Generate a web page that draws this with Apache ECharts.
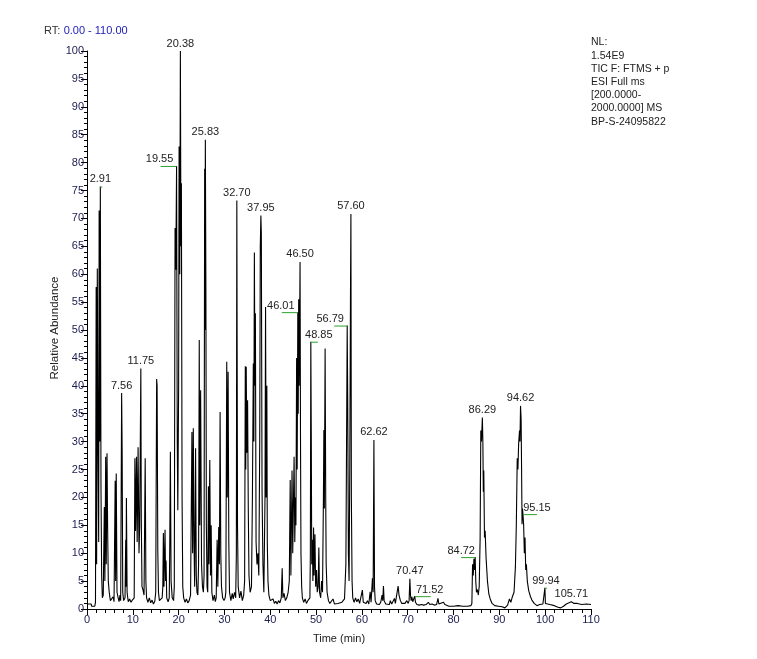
<!DOCTYPE html>
<html>
<head>
<meta charset="utf-8">
<title>TIC chromatogram</title>
<script src="https://cdn.jsdelivr.net/npm/echarts@6/dist/echarts.min.js"></script>
<style>
  html, body { margin: 0; padding: 0; background: #fff; }
  #main { width: 757px; height: 659px; }
</style>
</head>
<body>
<div id="main"></div>
<script>
// retention time (min) and relative abundance (%)
const rt = [
  0.0, 0.9, 1.0, 1.7, 1.85, 2.0, 2.1, 2.25, 2.4, 2.55, 2.65, 2.78, 2.91, 3.05, 3.2, 3.35, 3.55,
  3.78, 3.9, 4.08, 4.2, 4.37, 4.5, 4.65, 4.85, 5.1, 5.4, 5.7, 5.9, 6.15, 6.25, 6.38, 6.55,
  6.8, 7.0, 7.2, 7.35, 7.56, 7.67, 7.8, 8.0, 8.3, 8.45, 8.52, 8.6, 8.75, 9.0, 9.3, 9.6, 9.9,
  10.2, 10.3, 10.45, 10.6, 10.8, 10.95, 11.15, 11.35, 11.5, 11.75, 11.85, 12.0, 12.2, 12.45,
  12.7, 12.85, 13.0, 13.3, 13.6, 13.9, 14.2, 14.5, 14.8, 15.0, 15.2, 15.3, 15.45, 15.6, 15.8,
  16.1, 16.4, 16.55, 16.67, 16.8, 17.03, 17.15, 17.25, 17.4, 17.7, 17.95, 18.05, 18.2, 18.35,
  18.6, 18.9, 19.05, 19.22, 19.38, 19.55, 19.7, 19.82, 20.0, 20.1, 20.25, 20.38, 20.5, 20.6,
  20.75, 20.9, 21.1, 21.4, 21.7, 22.0, 22.3, 22.6, 22.9, 23.05, 23.2, 23.35, 23.5, 23.7, 23.85,
  24.0, 24.2, 24.35, 24.5, 24.62, 24.8, 25.0, 25.2, 25.4, 25.55, 25.68, 25.75, 25.83, 25.95,
  26.05, 26.2, 26.35, 26.5, 26.62, 26.8, 26.95, 27.1, 27.25, 27.5, 27.8, 28.0, 28.2, 28.4,
  28.55, 28.75, 28.9, 29.05, 29.2, 29.35, 29.6, 29.9, 30.15, 30.3, 30.5, 30.62, 30.8, 30.95,
  31.1, 31.4, 31.7, 31.9, 32.2, 32.45, 32.6, 32.7, 32.85, 33.0, 33.3, 33.6, 33.9, 34.2, 34.4,
  34.55, 34.65, 34.75, 34.88, 35.05, 35.2, 35.35, 35.6, 35.9, 36.1, 36.3, 36.42, 36.53, 36.65,
  36.75, 36.9, 37.1, 37.3, 37.5, 37.7, 37.82, 37.95, 38.05, 38.2, 38.4, 38.6, 38.85, 38.97,
  39.1, 39.25, 39.35, 39.5, 39.7, 40.0, 40.3, 40.6, 40.9, 41.2, 41.5, 41.8, 42.1, 42.4, 42.6,
  42.75, 43.0, 43.3, 43.6, 43.9, 44.15, 44.35, 44.5, 44.75, 44.9, 45.2, 45.35, 45.5, 45.6,
  45.75, 45.87, 46.01, 46.1, 46.2, 46.3, 46.4, 46.5, 46.6, 46.7, 46.85, 47.0, 47.3, 47.6, 47.9,
  48.2, 48.5, 48.65, 48.75, 48.85, 48.95, 49.05, 49.2, 49.3, 49.45, 49.55, 49.75, 49.9, 50.1,
  50.25, 50.45, 50.6, 50.75, 51.0, 51.2, 51.4, 51.6, 51.7, 51.8, 51.97, 52.1, 52.2, 52.4, 52.7,
  53.0, 53.4, 53.7, 54.0, 54.4, 54.8, 55.2, 55.6, 55.9, 56.2, 56.4, 56.5, 56.65, 56.79, 56.9,
  57.05, 57.2, 57.35, 57.5, 57.6, 57.7, 57.85, 58.0, 58.3, 58.6, 58.9, 59.2, 59.5, 59.8, 60.1,
  60.3, 60.6, 60.9, 61.2, 61.5, 61.8, 62.0, 62.3, 62.45, 62.62, 62.75, 62.9, 63.2, 63.5, 63.8,
  64.1, 64.4, 64.55, 64.7, 64.85, 65.2, 65.6, 66.0, 66.2, 66.5, 66.8, 67.1, 67.3, 67.6, 67.9,
  68.1, 68.4, 68.7, 69.0, 69.4, 69.8, 70.1, 70.3, 70.47, 70.6, 70.75, 70.9, 71.1, 71.3, 71.52,
  71.7, 72.0, 72.5, 73.0, 73.5, 74.0, 74.5, 74.8, 75.3, 75.8, 76.3, 76.6, 76.8, 77.2, 77.8,
  78.1, 78.5, 79.0, 80.0, 81.0, 82.0, 83.0, 83.8, 84.0, 84.15, 84.3, 84.45, 84.6, 84.72, 84.85,
  85.0, 85.2, 85.4, 85.6, 85.8, 85.95, 86.1, 86.29, 86.4, 86.5, 86.6, 86.75, 86.9, 87.1, 87.4,
  87.7, 88.0, 88.4, 89.0, 89.8, 90.6, 91.2, 91.6, 91.8, 92.2, 92.5, 92.8, 93.2, 93.5, 93.7,
  93.9, 94.05, 94.2, 94.4, 94.5, 94.62, 94.75, 94.85, 94.95, 95.05, 95.15, 95.3, 95.45, 95.6,
  95.75, 95.9, 96.1, 96.4, 96.8, 97.1, 97.6, 98.2, 98.8, 99.5, 99.85, 99.94, 100.05, 100.4,
  101.0, 102.0, 102.8, 103.4, 104.0, 104.6, 105.2, 105.71, 106.3, 107.0, 108.0, 109.0, 110.0
];
const abundance = [
  0.9, 0.9, 0.5, 0.5, 1.2, 57.7, 8, 61, 28, 12, 71.4, 30, 75.7, 22, 6, 2, 2.5,
  18.3, 5, 27.3, 8, 27.9, 14.6, 5, 3, 1.5, 1.2, 2.2, 1.3, 23, 5, 24.3, 3,
  2, 1.3, 2.5, 1.5, 38.7, 28.4, 3, 1.5, 2, 12.4, 4, 19.9, 3, 1.3, 1.8, 1.2, 1.6,
  1.3, 2, 27, 14, 27.3, 12, 29, 10, 15, 43.1, 16, 4, 3.5, 2.5,
  27, 5, 2, 1.2, 2, 1.1, 1.6, 0.9, 1.4, 3, 41.2, 40, 10.5, 3, 1.5,
  1.2, 2, 4, 13.6, 4, 14.2, 5, 8.7, 2, 1.3, 2, 10, 28.2, 5,
  2, 1.5, 4, 68.3, 60.8, 79.4, 30, 17.7, 40, 82.9, 60, 100, 65, 76.3,
  20, 4, 2, 1.2, 1.8, 1.1, 1.5, 2.5, 31.7, 10, 32.4, 12, 4, 28.8, 6,
  3, 2.5, 8, 48.2, 15, 39.2, 8, 4, 3, 6, 78.9, 50, 84.1, 57.1,
  15, 4, 3, 22, 8, 26.7, 6, 15, 3, 1.5, 2.5, 1.3, 2, 12.4,
  4, 14.7, 8, 35.3, 10, 4, 2, 1.5, 2, 3, 44.3, 20, 42.5, 12,
  3, 1.5, 2.8, 1.8, 3, 2, 10, 73.2, 15, 4, 2, 3.2, 1.5, 2.5, 5,
  43.5, 25, 43.4, 28, 37.4, 18, 6, 3, 4, 20, 44, 30, 63.9, 40,
  53, 12, 8, 10, 6, 30, 65, 70.5, 67.2, 21.6, 8, 3, 20, 54.1,
  20, 40, 12, 5, 2.5, 1.5, 1.2, 1.8, 1.0, 1.4, 0.9, 1.5, 1.1, 2, 7.3,
  2, 2.8, 1.5, 2, 3, 5, 23.1, 6, 24.8, 10, 27.3, 12, 20, 15,
  45, 25, 53.2, 35, 55.5, 40, 50, 62.2, 30, 10, 4, 2, 1.2, 1.8, 1.0,
  1.5, 1.2, 2, 10, 47.9, 30.9, 8, 12.4, 5, 14.6, 6, 13.4, 4, 7,
  3, 4, 11, 3, 2, 5, 3, 20, 32.1, 18, 46.7, 20, 8, 3, 1.5,
  1.0, 1.3, 1.8, 0.9, 0.6, 1.0, 0.8, 1.2, 1.0, 1.8, 2, 8, 30, 50.8, 37.9,
  10, 5, 25, 55, 70.8, 20, 5, 2, 1.2, 2, 1.3, 1.8, 1.0, 1.2, 3.4,
  1.2, 0.9, 1.0, 1.5, 0.9, 3.1, 1.2, 5.5, 3, 30.3, 4, 1.5, 0.9, 1.1, 0.8,
  1.2, 2.5, 1.5, 4.1, 1.5, 0.9, 1.0, 0.8, 1.5, 0.9, 1.0, 1.9, 1.0, 1.2, 4.1,
  2.5, 1.5, 1.0, 0.8, 1.0, 1.5, 1.0, 1.5, 5.4, 2.5, 1.5, 2.2, 1.3, 1.6, 2.3,
  1.2, 0.8, 0.7, 0.8, 0.7, 0.8, 1.2, 0.8, 0.9, 0.7, 0.8, 1.9, 0.9, 0.7, 1.2,
  0.8, 0.6, 0.5, 0.5, 0.6, 0.5, 0.5, 0.6, 1, 8, 6, 9, 7, 9.3, 5,
  3, 3.5, 2.5, 4, 12.5, 32, 30, 34.3, 30, 21, 24.8, 12.8, 14, 9.2, 5,
  2.7, 1.8, 1.0, 0.6, 0.5, 0.4, 0.2, 0.3, 0.7, 1.8, 1.2, 2.1, 3, 7.5, 15,
  27, 25, 29.5, 32, 30, 36.4, 34, 25, 15.2, 18, 17, 15, 10, 12.8,
  7, 8, 5, 3.3, 2.2, 1.6, 1.0, 0.6, 0.8, 0.9, 1.0, 3.8, 1.0, 0.8,
  0.8, 0.6, 0.3, 0.2, 0.5, 0.9, 1.1, 1.3, 1.0, 1.0, 0.8, 0.9, 0.8
];

// peaks that carry a retention-time label
const labelledPeaks = [2.91, 7.56, 11.75, 19.55, 20.38, 25.83, 32.70, 37.95, 46.01, 46.50,
  48.85, 56.79, 57.60, 62.62, 70.47, 71.52, 84.72, 86.29, 94.62, 95.15, 99.94, 105.71];

const infoLines = ['NL:', '1.54E9', 'TIC F: FTMS + p', 'ESI Full ms',
  '[200.0000-', '2000.0000] MS', 'BP-S-24095822'];

// labels moved aside from their peak, with a green leader (pixels)
const labelShift = {
  '2.91': { dx: 0, line: 2 },
  '19.55': { dx: -17, line: -16 },
  '46.01': { dx: -17, line: -16 },
  '48.85': { dx: 8, line: 7 },
  '56.79': { dx: -17, line: -13 },
  '71.52': { dx: 15, line: 16 },
  '84.72': { dx: -14, line: -14 },
  '95.15': { dx: 14, line: 14 },
  '99.94': { dx: 1, line: 2 }
};

const FONT = '"Liberation Sans", Arial, sans-serif';
const TICK_COLOR = '#1c1c50';

const trace = rt.map((t, i) => [t, abundance[i]]);
const labelData = labelledPeaks.map(t => [t, abundance[rt.indexOf(t)]]);

const myChart = echarts.init(document.getElementById('main'));

function renderLabel(params, api) {
  const t = api.value(0);
  const p = api.coord([t, api.value(1)]);
  const key = t.toFixed(2);
  const s = labelShift[key];
  const children = [];
  if (s && s.line) {
    children.push({
      type: 'line',
      shape: { x1: p[0] + s.line, y1: p[1] + 0.5, x2: p[0], y2: p[1] + 0.5 },
      style: { stroke: '#2ca02c', lineWidth: 1 }
    });
  }
  children.push({
    type: 'text',
    style: {
      text: key,
      x: p[0] + (s ? s.dx : 0),
      y: p[1] - (s && s.dx ? 1 : 2),
      textAlign: 'center',
      textVerticalAlign: 'bottom',
      align: 'center',
      verticalAlign: 'bottom',
      fill: '#222',
      font: '11px ' + FONT
    }
  });
  return { type: 'group', children: children };
}

myChart.setOption({
  animation: false,
  grid: { left: 87, right: 166, top: 51, bottom: 50 },
  xAxis: {
    type: 'value', min: 0, max: 110, interval: 10,
    name: 'Time (min)', nameLocation: 'middle', nameGap: 24,
    nameTextStyle: { color: '#222', fontSize: 11, fontFamily: FONT },
    axisLine: { lineStyle: { color: '#000', width: 1 } },
    axisTick: { length: 6, lineStyle: { color: '#000' } },
    minorTick: { show: true, splitNumber: 5, length: 4, lineStyle: { color: '#000' } },
    axisLabel: { color: TICK_COLOR, fontSize: 11, fontFamily: FONT, margin: 5 },
    splitLine: { show: false }
  },
  yAxis: {
    type: 'value', min: 0, max: 100, interval: 5,
    axisLine: { show: true, lineStyle: { color: '#000', width: 1 } },
    axisTick: { show: true, length: 6, lineStyle: { color: '#000' } },
    minorTick: { show: true, splitNumber: 5, length: 3, lineStyle: { color: '#000' } },
    axisLabel: { color: TICK_COLOR, fontSize: 11, fontFamily: FONT, margin: 3 },
    splitLine: { show: false }
  },
  graphic: [
    {
      type: 'text', left: 44, top: 25,
      style: {
        text: '{a|RT:} {b|0.00 - 110.00}',
        rich: {
          a: { fill: '#333', fontSize: 11, fontFamily: FONT },
          b: { fill: '#1a1ab8', fontSize: 11, fontFamily: FONT }
        }
      }
    },
    {
      type: 'text', left: 591, top: 36,
      style: { text: infoLines.join('\n'), fill: '#222', font: '10.5px ' + FONT, lineHeight: 13.2 }
    },
    {
      type: 'text', x: 55, y: 328, rotation: Math.PI / 2,
      style: {
        text: 'Relative Abundance', fill: '#222', font: '11.5px ' + FONT,
        align: 'center', verticalAlign: 'middle', textAlign: 'center', textVerticalAlign: 'middle'
      }
    }
  ],
  series: [
    {
      name: 'TIC', type: 'line', data: trace,
      showSymbol: false, symbol: 'none', sampling: null,
      lineStyle: { color: '#000', width: 1.1 },
      clip: true, z: 2
    },
    {
      name: 'labels', type: 'custom', data: labelData,
      renderItem: renderLabel, clip: false, z: 3, silent: true
    }
  ]
});
</script>
</body>
</html>
